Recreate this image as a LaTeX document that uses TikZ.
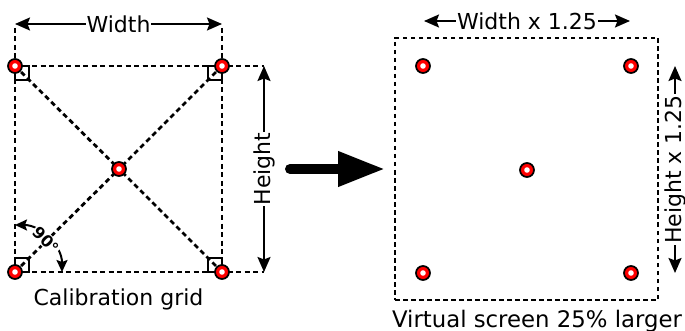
\documentclass[tikz,border=0pt]{standalone}
\usepackage{fontspec}
\setmainfont{DejaVu Sans}
\usetikzlibrary{arrows.meta}
\begin{document}
\begin{tikzpicture}[x=1pt,y=-1pt,
  dsh/.style={line width=2.8pt, dash pattern=on 5pt off 3.5pt},
  dsh2/.style={line width=2.6pt, dash pattern=on 4.5pt off 3.5pt},
  dim/.style={line width=2pt, {Stealth[length=15pt,width=13pt,inset=2.5pt]}-{Stealth[length=15pt,width=13pt,inset=2.5pt]}},
  lbl/.style={font=\fontsize{22}{26}\selectfont, fill=white, inner sep=1pt},
  captxt/.style={font=\fontsize{22}{26}\selectfont, anchor=base, inner sep=0pt},
  rsq/.style={line width=2.5pt},
  target/.style={circle, draw=black, line width=1.7pt, fill=red, minimum size=14pt, inner sep=0pt,
    path picture={\fill[white] (path picture bounding box.center) circle (2.8pt);}}
]
\useasboundingbox (0,0) rectangle (685,331);
% left grid positions
\coordinate (TL) at (15,66);
\coordinate (TR) at (222,66);
\coordinate (BL) at (15,272);
\coordinate (BR) at (222,272);
\coordinate (C) at (119,169);
% extension lines / box
\coordinate (eL) at (15,28);
\coordinate (eR) at (222,28);
\coordinate (hT) at (264,66);
\coordinate (hB) at (264,272);
\draw[dsh] (eL) -- (BL);
\draw[dsh] (eR) -- (BR);
\draw[dsh] (TL) -- (hT);
\draw[dsh] (BL) -- (hB);
% diagonals
\draw[dsh] (TL) -- (C);
\draw[dsh] (TR) -- (C);
\draw[dsh] (BL) -- (C);
\draw[dsh] (BR) -- (C);
% right-angle marks
\draw[rsq] (TL) rectangle +(14,14);
\draw[rsq] (TR) rectangle +(-14,14);
\draw[rsq] (BL) rectangle +(14,-14);
\draw[rsq] (BR) rectangle +(-14,-14);
% 90 degree arc
\coordinate (aS) at (15,225);
\draw[line width=2pt, {Stealth[length=12pt,width=11pt,inset=2pt]}-{Stealth[length=12pt,width=11pt,inset=2pt]}]
  (aS) arc[start angle=-90, end angle=0, radius=47];
\node[font=\bfseries\fontsize{16}{18}\selectfont, rotate=-45, fill=white, inner sep=1pt] (deg) at (46,240) {90°};
% dimensions
\coordinate (wl) at (15,24);
\coordinate (wr) at (222,24);
\draw[dim] (wl) -- node[lbl] (wlab) {Width} (wr);
\draw[dim] (hT) -- node[lbl, rotate=90] (hlab) {Height} (hB);
% targets left
\node[target] (tTL) at (TL) {};
\node[target] (tTR) at (TR) {};
\node[target] (tBL) at (BL) {};
\node[target] (tBR) at (BR) {};
\node[target] (tC) at (C) {};
\node[captxt] (cal) at (118.5,305) {Calibration grid};
% big arrow
\coordinate (a1) at (290,169);
\coordinate (a2) at (385,169);
\draw[line width=10pt, line cap=round, -{Triangle[length=47pt,width=33pt]}] (a1) -- (a2);
% right box
\node[draw, dsh2, minimum width=263pt, minimum height=262pt, inner sep=0pt] (vs) at (526.5,169) {};
\node[target] (rTL) at (423,66) {};
\node[target] (rTR) at (631,66) {};
\node[target] (rC) at (527,170) {};
\node[target] (rBL) at (423,273) {};
\node[target] (rBR) at (631,273) {};
\coordinate (w2l) at (424,21);
\coordinate (w2r) at (630,21);
\draw[dim] (w2l) -- node[lbl] (w2lab) {Width x 1.25} (w2r);
\coordinate (h2T) at (675,66);
\coordinate (h2B) at (675,273);
\draw[dim] (h2T) -- node[lbl, rotate=90] (h2lab) {Height x 1.25} (h2B);
\node[captxt, font=\fontsize{22.8}{26}\selectfont] (vcap) at (537,327) {Virtual screen 25\% larger};
\end{tikzpicture}
\end{document}
